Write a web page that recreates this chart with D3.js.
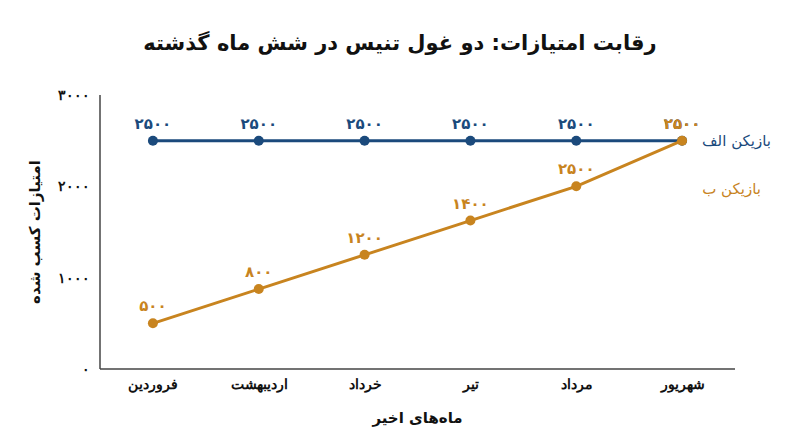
<!DOCTYPE html>
<html lang="fa">
<head>
<meta charset="utf-8">
<script src="https://cdn.jsdelivr.net/npm/d3@7"></script>
<style>
  html, body { margin: 0; padding: 0; background: #fff; }
  svg { display: block; font-family: "DejaVu Sans", sans-serif; }
</style>
</head>
<body>
<div id="chart"></div>
<script>
// chart data
let months = ["فروردین", "اردیبهشت", "خرداد", "تیر", "مرداد", "شهریور"];
let playerA = [2500, 2500, 2500, 2500, 2500, 2500];
let playerB = [500, 875, 1250, 1625, 2000, 2500];
let labelsA = ["۲۵۰۰", "۲۵۰۰", "۲۵۰۰", "۲۵۰۰", "۲۵۰۰", "۲۵۰۰"];
let labelsB = ["۵۰۰", "۸۰۰", "۱۲۰۰", "۱۴۰۰", "۲۵۰۰", "۲۵۰۰"];
let yTicks = [0, 1000, 2000, 3000];
let seriesNames = ["بازیکن الف", "بازیکن ب"];

let width = 800;
let height = 447;
let margin = {top: 95, right: 65, bottom: 78, left: 100};

let colorA = "#1b4a7c";
let colorB = "#c8841f";

let svg = d3.select("#chart").append("svg")
  .attr("width", width)
  .attr("height", height);

let x = d3.scalePoint()
  .domain(months)
  .range([margin.left, width - margin.right])
  .padding(0.5);

let y = d3.scaleLinear()
  .domain([0, 3000])
  .range([height - margin.bottom, margin.top]);

const faNum = d => d.toString().replace(/\d/g, c => "۰۱۲۳۴۵۶۷۸۹"[c]);

// title
svg.append("text")
  .attr("x", 400)
  .attr("y", 50)
  .attr("text-anchor", "middle")
  .attr("direction", "rtl")
  .style("font-size", "21px")
  .style("font-weight", "bold")
  .style("fill", "#111")
  .text("رقابت امتیازات: دو غول تنیس در شش ماه گذشته");

// axes
let xAxis = svg.append("g")
  .attr("transform", `translate(0, ${height - margin.bottom})`)
  .call(d3.axisBottom(x).tickSize(0).tickPadding(10));
xAxis.select(".domain")
  .attr("d", `M${margin.left},0H${width - margin.right}`)
  .attr("stroke", "#444")
  .attr("stroke-width", 1.5);
xAxis.selectAll("text")
  .style("font-size", "14px")
  .style("font-weight", "bold")
  .style("fill", "#111")
  .attr("direction", "rtl");

let yAxis = svg.append("g")
  .attr("transform", `translate(${margin.left}, 0)`)
  .call(d3.axisLeft(y).tickValues(yTicks).tickSize(0).tickPadding(10).tickFormat(faNum));
yAxis.select(".domain")
  .attr("d", `M0,${margin.top}V${height - margin.bottom}`)
  .attr("stroke", "#444")
  .attr("stroke-width", 1.5);
yAxis.selectAll("text")
  .style("font-size", "14px")
  .style("font-weight", "bold")
  .style("fill", "#111");

// axis titles
svg.append("text")
  .attr("x", (margin.left + width - margin.right) / 2)
  .attr("y", 423)
  .attr("text-anchor", "middle")
  .attr("direction", "rtl")
  .style("font-size", "15px")
  .style("font-weight", "bold")
  .style("fill", "#111")
  .text("ماه‌های اخیر");

svg.append("text")
  .attr("transform", `translate(40, ${(margin.top + height - margin.bottom) / 2}) rotate(-90)`)
  .attr("text-anchor", "middle")
  .attr("direction", "rtl")
  .style("font-size", "15px")
  .style("font-weight", "bold")
  .style("fill", "#111")
  .text("امتیازات کسب شده");

// lines
let line = d3.line()
  .x((d, i) => x(months[i]))
  .y(d => y(d));

function drawSeries(values, labels, color) {
  svg.append("path")
    .datum(values)
    .attr("fill", "none")
    .attr("stroke", color)
    .attr("stroke-width", 3)
    .attr("d", line);

  svg.selectAll(null)
    .data(values)
    .enter()
    .append("circle")
    .attr("cx", (d, i) => x(months[i]))
    .attr("cy", d => y(d))
    .attr("r", 5)
    .attr("fill", color);

  svg.selectAll(null)
    .data(values)
    .enter()
    .append("text")
    .attr("x", (d, i) => x(months[i]))
    .attr("y", d => y(d) - 12)
    .attr("text-anchor", "middle")
    .style("font-size", "15px")
    .style("font-weight", "bold")
    .style("fill", color)
    .text((d, i) => labels[i]);
}

drawSeries(playerA, labelsA, colorA);
drawSeries(playerB, labelsB, colorB);

// series names at right
svg.append("text")
  .attr("x", 771)
  .attr("y", y(playerA[5]) + 5)
  .attr("text-anchor", "start")
  .attr("direction", "rtl")
  .style("font-size", "15px")
  .style("fill", colorA)
  .text(seriesNames[0]);

svg.append("text")
  .attr("x", 761)
  .attr("y", y(playerB[4]) + 8)
  .attr("text-anchor", "start")
  .attr("direction", "rtl")
  .style("font-size", "15px")
  .style("fill", colorB)
  .text(seriesNames[1]);
</script>
</body>
</html>
